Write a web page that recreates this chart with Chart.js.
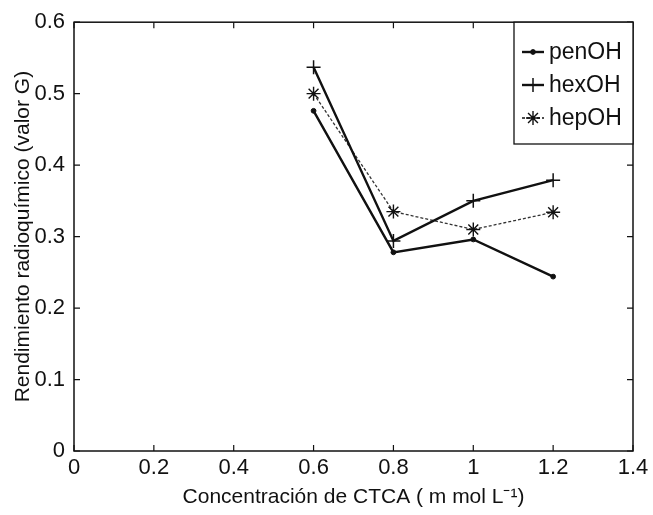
<!DOCTYPE html>
<html>
<head>
<meta charset="utf-8">
<script src="https://cdn.jsdelivr.net/npm/chart.js@4.4.0/dist/chart.umd.min.js"></script>
<style>
  html, body { margin: 0; padding: 0; background: #fff; }
  #wrap { width: 653px; height: 515px; }
</style>
</head>
<body>
<div id="wrap"><canvas id="c" width="653" height="515"></canvas></div>
<script>
// CTCA concentration (m mol L^-1) and radiochemical yield (G value) per alcohol
const concentrations = [0.6, 0.8, 1.0, 1.2];
const penOH = [0.476, 0.278, 0.296, 0.244];
const hexOH = [0.537, 0.294, 0.350, 0.379];
const hepOH = [0.500, 0.335, 0.310, 0.334];

const xTickLabels = ['0', '0.2', '0.4', '0.6', '0.8', '1', '1.2', '1.4'];
const yTickLabels = ['0', '0.1', '0.2', '0.3', '0.4', '0.5', '0.6'];

const FAMILY = '"Liberation Sans", Arial, Helvetica, sans-serif';
const TICK_FONT = { family: FAMILY, size: 22 };
const TITLE_FONT = { family: FAMILY, size: 21 };
const LEGEND_SIZE = 23;
const INK = '#111';

const points = ys => concentrations.map((x, i) => ({ x, y: ys[i] }));

// Box frame with inward ticks on all four sides
const framePlugin = {
  id: 'frame',
  beforeDatasetsDraw(chart) {
    const { ctx, chartArea: a, scales: { x, y } } = chart;
    ctx.save();
    ctx.strokeStyle = INK;
    ctx.lineWidth = 1.5;
    ctx.strokeRect(a.left, a.top, a.right - a.left, a.bottom - a.top);
    ctx.lineWidth = 1.2;
    const len = 6;
    ctx.beginPath();
    x.ticks.forEach(t => {
      const px = x.getPixelForValue(t.value);
      ctx.moveTo(px, a.bottom); ctx.lineTo(px, a.bottom - len);
      ctx.moveTo(px, a.top); ctx.lineTo(px, a.top + len);
    });
    y.ticks.forEach(t => {
      const py = y.getPixelForValue(t.value);
      ctx.moveTo(a.left, py); ctx.lineTo(a.left + len, py);
      ctx.moveTo(a.right, py); ctx.lineTo(a.right - len, py);
    });
    ctx.stroke();
    ctx.restore();
  }
};

// Boxed legend in the upper-right corner: line sample, marker, label
const boxLegendPlugin = {
  id: 'boxLegend',
  afterDatasetsDraw(chart) {
    const { ctx, chartArea: a } = chart;
    const box = { left: 514, top: a.top, right: a.right, bottom: 144 };
    ctx.save();
    ctx.fillStyle = '#fff';
    ctx.fillRect(box.left, box.top, box.right - box.left, box.bottom - box.top);
    ctx.strokeStyle = INK;
    ctx.lineWidth = 1.3;
    ctx.strokeRect(box.left, box.top, box.right - box.left, box.bottom - box.top);
    ctx.font = `${LEGEND_SIZE}px ${FAMILY}`;
    ctx.textBaseline = 'middle';
    ctx.textAlign = 'left';
    chart.data.datasets.forEach((ds, i) => {
      const yy = 52 + i * 33;
      const x0 = 522, x1 = 544, xm = (x0 + x1) / 2;
      ctx.strokeStyle = INK;
      ctx.lineWidth = ds.borderWidth;
      ctx.setLineDash(ds.borderDash || []);
      ctx.beginPath(); ctx.moveTo(x0, yy); ctx.lineTo(x1, yy); ctx.stroke();
      ctx.setLineDash([]);
      ctx.fillStyle = INK;
      ctx.lineWidth = ds.pointBorderWidth;
      Chart.helpers.drawPoint(ctx, { pointStyle: ds.pointStyle, radius: ds.pointRadius, rotation: 0, borderWidth: ds.pointBorderWidth }, xm, yy);
      ctx.fillStyle = INK;
      ctx.fillText(ds.label, 549, yy + 1);
    });
    ctx.restore();
  }
};

new Chart(document.getElementById('c'), {
  type: 'line',
  data: {
    datasets: [
      {
        label: 'penOH', data: points(penOH),
        borderColor: INK, backgroundColor: INK, borderWidth: 2.4,
        pointStyle: 'circle', pointRadius: 2.4, pointBorderWidth: 1,
        pointBackgroundColor: INK, pointBorderColor: INK
      },
      {
        label: 'hexOH', data: points(hexOH),
        borderColor: INK, backgroundColor: INK, borderWidth: 2.4,
        pointStyle: 'cross', pointRadius: 7, pointBorderWidth: 1.5,
        pointBorderColor: INK
      },
      {
        label: 'hepOH', data: points(hepOH),
        borderColor: '#333', backgroundColor: INK, borderWidth: 1.3, borderDash: [3, 2],
        pointStyle: 'star', pointRadius: 7, pointBorderWidth: 1.4,
        pointBorderColor: INK
      }
    ]
  },
  options: {
    responsive: false,
    animation: false,
    devicePixelRatio: 1,
    layout: { padding: { left: 0, right: 20, top: 19, bottom: 0 } },
    elements: { line: { tension: 0, fill: false } },
    plugins: { legend: { display: false }, tooltip: { enabled: false } },
    scales: {
      x: {
        type: 'linear', min: 0, max: 1.4,
        afterFit: s => { s.height = 64; },
        grid: { display: false, drawTicks: false },
        border: { display: false },
        ticks: {
          stepSize: 0.2, padding: 4, color: INK, font: TICK_FONT, maxRotation: 0,
          callback: (v, i) => xTickLabels[i]
        },
        title: {
          display: true, text: 'Concentración de CTCA ( m mol L⁻¹)',
          color: INK, font: TITLE_FONT, padding: { top: 0, bottom: 5 }
        }
      },
      y: {
        type: 'linear', min: 0, max: 0.6,
        afterFit: s => { s.width = 74; },
        grid: { display: false, drawTicks: false },
        border: { display: false },
        ticks: {
          stepSize: 0.1, padding: 9, color: INK, font: TICK_FONT,
          callback: (v, i) => yTickLabels[i]
        },
        title: {
          display: true, text: 'Rendimiento radioquímico (valor G)',
          color: INK, font: TITLE_FONT, padding: { top: 11, bottom: 0 }
        }
      }
    }
  },
  plugins: [framePlugin, boxLegendPlugin]
});
</script>
</body>
</html>
